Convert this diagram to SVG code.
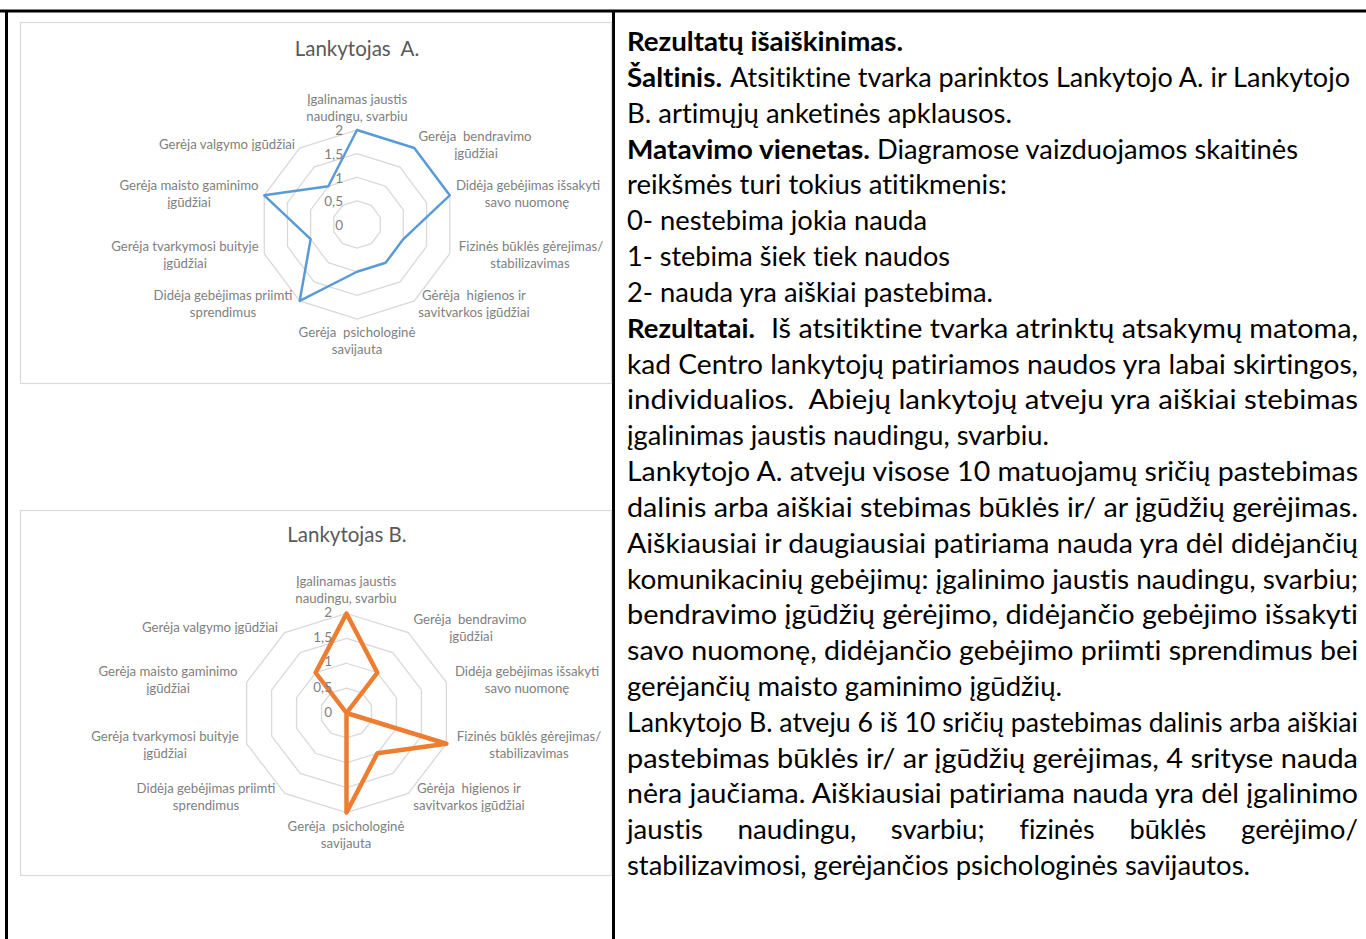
<svg xmlns="http://www.w3.org/2000/svg" width="1366" height="939" viewBox="0 0 1366 939">
<style>
.frame{stroke:#000;stroke-width:3;fill:none}
.box{fill:#fff;stroke:#d9d9d9;stroke-width:1.2}
.ring{fill:none;stroke:#d9d9d9;stroke-width:1.3;vector-effect:non-scaling-stroke}
.serA{fill:none;stroke:#5b9bd5;stroke-width:2.5;stroke-linejoin:round;vector-effect:non-scaling-stroke}
.serB{fill:none;stroke:#ed7d31;stroke-width:4.5;stroke-linejoin:round;vector-effect:non-scaling-stroke}
.title{font-family:Lato,"Liberation Sans",sans-serif;font-size:20.5px;fill:#595959;text-anchor:middle;white-space:pre}
.lab{font-family:Lato,"Liberation Sans",sans-serif;font-size:13.2px;fill:#808080;text-anchor:middle;white-space:pre}
.num{font-family:Lato,"Liberation Sans",sans-serif;font-size:13.5px;fill:#808080;text-anchor:end}
.t{font-family:Lato,"Liberation Sans",sans-serif;font-size:27px;fill:#000;font-variant-ligatures:none}
.b{font-weight:bold}
</style>
<defs>
<g id="rings">
<polygon class="ring" points="0,-100 58.78,-80.9 95.11,-30.9 95.11,30.9 58.78,80.9 0,100 -58.78,80.9 -95.11,30.9 -95.11,-30.9 -58.78,-80.9"/>
<polygon class="ring" points="0,-75 44.08,-60.68 71.33,-23.18 71.33,23.18 44.08,60.68 0,75 -44.08,60.68 -71.33,23.18 -71.33,-23.18 -44.08,-60.68"/>
<polygon class="ring" points="0,-50 29.39,-40.45 47.55,-15.45 47.55,15.45 29.39,40.45 0,50 -29.39,40.45 -47.55,15.45 -47.55,-15.45 -29.39,-40.45"/>
<polygon class="ring" points="0,-25 14.69,-20.23 23.78,-7.73 23.78,7.73 14.69,20.23 0,25 -14.69,20.23 -23.78,7.73 -23.78,-7.73 -14.69,-20.23"/>
</g>
</defs>
<rect width="1366" height="939" fill="#fff"/>
<g id="table-frame">
<line class="frame" x1="0" y1="11" x2="1366" y2="11"/>
<line class="frame" x1="6.5" y1="10" x2="6.5" y2="939"/>
<line class="frame" x1="613.5" y1="10" x2="613.5" y2="939"/>
</g>
<g id="chart-a">
<rect class="box" x="20.5" y="22.5" width="591" height="361"/>
<text class="title" x="357" y="56">Lankytojas  A.</text>
<g transform="translate(357,224.5) scale(0.975,0.945)">
<use href="#rings"/>
<polygon class="serA" points="0,-100 58.78,-80.9 95.11,-30.9 47.55,15.45 29.39,40.45 0,50 -58.78,80.9 -47.55,15.45 -95.11,-30.9 -29.39,-40.45"/>
</g>
<text class="num" x="343" y="135">2</text>
<text class="num" x="343" y="159">1,5</text>
<text class="num" x="343" y="183">1</text>
<text class="num" x="343" y="206">0,5</text>
<text class="num" x="343" y="230">0</text>
<text class="lab" x="357" y="104">Įgalinamas jaustis</text>
<text class="lab" x="357" y="121">naudingu, svarbiu</text>
<text class="lab" x="475" y="141">Gerėja  bendravimo</text>
<text class="lab" x="476" y="158">įgūdžiai</text>
<text class="lab" x="528" y="190">Didėja gebėjimas išsakyti</text>
<text class="lab" x="527" y="207">savo nuomonę</text>
<text class="lab" x="531" y="251">Fizinės būklės gėrejimas/</text>
<text class="lab" x="530" y="268">stabilizavimas</text>
<text class="lab" x="474" y="300">Gėrėja  higienos ir</text>
<text class="lab" x="474" y="317">savitvarkos įgūdžiai</text>
<text class="lab" x="357" y="337">Gerėja  psichologinė</text>
<text class="lab" x="357" y="354">savijauta</text>
<text class="lab" x="223" y="300">Didėja gebėjimas priimti</text>
<text class="lab" x="223" y="317">sprendimus</text>
<text class="lab" x="185" y="251">Gerėja tvarkymosi buityje</text>
<text class="lab" x="185" y="268">įgūdžiai</text>
<text class="lab" x="189" y="190">Gerėja maisto gaminimo</text>
<text class="lab" x="189" y="207">įgūdžiai</text>
<text class="lab" x="227" y="149">Gerėja valgymo įgūdžiai</text>
</g>
<g id="chart-b">
<rect class="box" x="20.5" y="510.5" width="591" height="365"/>
<text class="title" x="347" y="542">Lankytojas B.</text>
<g transform="translate(346.5,713) scale(1.05,0.995)">
<use href="#rings"/>
<polygon class="serB" points="0,-100 29.39,-40.45 0,0 95.11,30.9 29.39,40.45 0,100 0,0 0,0 0,0 -29.39,-40.45"/>
</g>
<text class="num" x="332" y="617">2</text>
<text class="num" x="332" y="642">1,5</text>
<text class="num" x="332" y="666">1</text>
<text class="num" x="332" y="692">0,5</text>
<text class="num" x="332" y="717">0</text>
<text class="lab" x="346" y="586">Įgalinamas jaustis</text>
<text class="lab" x="346" y="603">naudingu, svarbiu</text>
<text class="lab" x="470" y="624">Gerėja  bendravimo</text>
<text class="lab" x="471" y="641">įgūdžiai</text>
<text class="lab" x="527" y="676">Didėja gebėjimas išsakyti</text>
<text class="lab" x="527" y="693">savo nuomonę</text>
<text class="lab" x="529" y="741">Fizinės būklės gėrejimas/</text>
<text class="lab" x="529" y="758">stabilizavimas</text>
<text class="lab" x="469" y="793">Gėrėja  higienos ir</text>
<text class="lab" x="469" y="810">savitvarkos įgūdžiai</text>
<text class="lab" x="346" y="831">Gerėja  psichologinė</text>
<text class="lab" x="346" y="848">savijauta</text>
<text class="lab" x="206" y="793">Didėja gebėjimas priimti</text>
<text class="lab" x="206" y="810">sprendimus</text>
<text class="lab" x="165" y="741">Gerėja tvarkymosi buityje</text>
<text class="lab" x="165" y="758">įgūdžiai</text>
<text class="lab" x="168" y="676">Gerėja maisto gaminimo</text>
<text class="lab" x="168" y="693">įgūdžiai</text>
<text class="lab" x="210" y="632">Gerėja valgymo įgūdžiai</text>
</g>
<g id="explanation">
<text class="t b" x="627" y="51" textLength="276" lengthAdjust="spacingAndGlyphs">Rezultatų išaiškinimas.</text>
<text class="t b" x="627" y="86.8" textLength="95" lengthAdjust="spacingAndGlyphs">Šaltinis.</text>
<text class="t" x="730" y="86.8" textLength="620" lengthAdjust="spacingAndGlyphs">Atsitiktine tvarka parinktos Lankytojo A. ir Lankytojo</text>
<text class="t" x="627" y="122.7" textLength="385" lengthAdjust="spacingAndGlyphs">B. artimųjų anketinės apklausos.</text>
<text class="t b" x="627" y="158.5" textLength="243" lengthAdjust="spacingAndGlyphs">Matavimo vienetas.</text>
<text class="t" x="877" y="158.5" textLength="421" lengthAdjust="spacingAndGlyphs">Diagramose vaizduojamos skaitinės</text>
<text class="t" x="627" y="194.3" textLength="380" lengthAdjust="spacingAndGlyphs">reikšmės turi tokius atitikmenis:</text>
<text class="t" x="627" y="230.2" textLength="300" lengthAdjust="spacingAndGlyphs">0- nestebima jokia nauda</text>
<text class="t" x="627" y="266" textLength="323" lengthAdjust="spacingAndGlyphs">1- stebima šiek tiek naudos</text>
<text class="t" x="627" y="301.8" textLength="366" lengthAdjust="spacingAndGlyphs">2- nauda yra aiškiai pastebima.</text>
<text class="t b" x="627" y="337.6" textLength="128" lengthAdjust="spacingAndGlyphs">Rezultatai.</text>
<text class="t" x="771" y="337.6" textLength="587" lengthAdjust="spacingAndGlyphs">Iš atsitiktine tvarka atrinktų atsakymų matoma,</text>
<text class="t" x="627" y="373.5" textLength="731" lengthAdjust="spacingAndGlyphs">kad Centro lankytojų patiriamos naudos yra labai skirtingos,</text>
<text class="t" x="627" y="409.3" textLength="731" lengthAdjust="spacingAndGlyphs" style="white-space:pre">individualios.  Abiejų lankytojų atveju yra aiškiai stebimas</text>
<text class="t" x="627" y="445.1" textLength="422" lengthAdjust="spacingAndGlyphs">įgalinimas jaustis naudingu, svarbiu.</text>
<text class="t" x="627" y="481" textLength="731" lengthAdjust="spacingAndGlyphs">Lankytojo A. atveju visose 10 matuojamų sričių pastebimas</text>
<text class="t" x="627" y="516.8" textLength="731" lengthAdjust="spacingAndGlyphs">dalinis arba aiškiai stebimas būklės ir/ ar įgūdžių gerėjimas.</text>
<text class="t" x="627" y="552.6" textLength="731" lengthAdjust="spacingAndGlyphs">Aiškiausiai ir daugiausiai patiriama nauda yra dėl didėjančių</text>
<text class="t" x="627" y="588.5" textLength="731" lengthAdjust="spacingAndGlyphs">komunikacinių gebėjimų: įgalinimo jaustis naudingu, svarbiu;</text>
<text class="t" x="627" y="624.3" textLength="731" lengthAdjust="spacingAndGlyphs">bendravimo įgūdžių gėrėjimo, didėjančio gebėjimo išsakyti</text>
<text class="t" x="627" y="660.1" textLength="731" lengthAdjust="spacingAndGlyphs">savo nuomonę, didėjančio gebėjimo priimti sprendimus bei</text>
<text class="t" x="627" y="695.9" textLength="435" lengthAdjust="spacingAndGlyphs">gerėjančių maisto gaminimo įgūdžių.</text>
<text class="t" x="627" y="731.8" textLength="731" lengthAdjust="spacingAndGlyphs">Lankytojo B. atveju 6 iš 10 sričių pastebimas dalinis arba aiškiai</text>
<text class="t" x="627" y="767.6" textLength="731" lengthAdjust="spacingAndGlyphs">pastebimas būklės ir/ ar įgūdžių gerėjimas, 4 srityse nauda</text>
<text class="t" x="627" y="803.4" textLength="731" lengthAdjust="spacingAndGlyphs">nėra jaučiama. Aiškiausiai patiriama nauda yra dėl įgalinimo</text>
<text class="t" x="627" y="839.3" textLength="76" lengthAdjust="spacingAndGlyphs">jaustis</text>
<text class="t" x="737.4" y="839.3" textLength="119" lengthAdjust="spacingAndGlyphs">naudingu,</text>
<text class="t" x="890.7" y="839.3" textLength="94" lengthAdjust="spacingAndGlyphs">svarbiu;</text>
<text class="t" x="1019.5" y="839.3" textLength="75" lengthAdjust="spacingAndGlyphs">fizinės</text>
<text class="t" x="1129.4" y="839.3" textLength="77" lengthAdjust="spacingAndGlyphs">būklės</text>
<text class="t" x="1241" y="839.3" textLength="117" lengthAdjust="spacingAndGlyphs">gerėjimo/</text>
<text class="t" x="627" y="875.1" textLength="623" lengthAdjust="spacingAndGlyphs">stabilizavimosi, gerėjančios psichologinės savijautos.</text>
</g>
</svg>
